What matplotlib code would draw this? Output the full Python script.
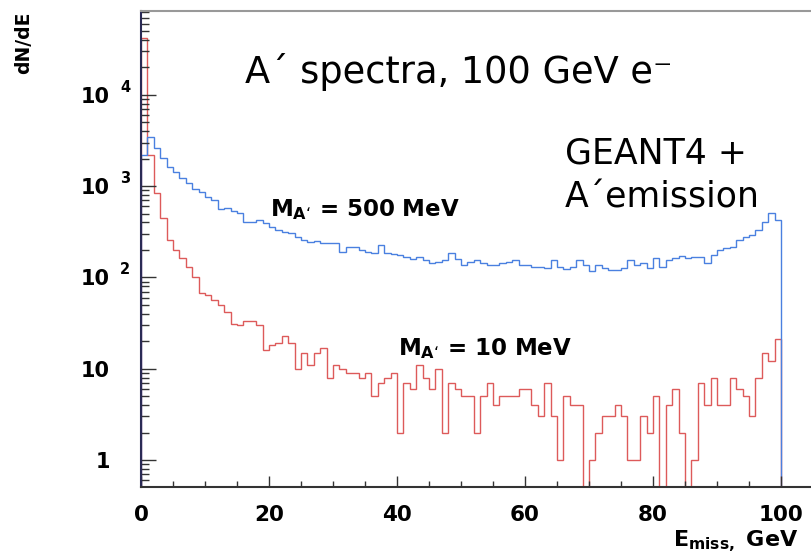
# A' missing energy spectra, log scale histograms (ROOT style look)
import numpy as np
import matplotlib.pyplot as plt
from matplotlib.ticker import MultipleLocator, LogLocator, NullFormatter

plt.rcParams['font.family'] = ['DejaVu Sans']
plt.rcParams['mathtext.fontset'] = 'dejavusans'

# 1 GeV bins from 0 to 100 GeV
bin_edges = np.arange(0, 101, 1)

# M_A' = 500 MeV
counts_500 = [2190, 3475, 2595, 2015, 1633, 1440, 1217, 1073, 923, 868,
              766, 704, 557, 571, 538, 504, 408, 408, 425, 391,
              360, 331, 317, 304, 279, 257, 246, 252, 240, 236,
              236, 191, 217, 217, 199, 191, 186, 226, 183, 180,
              175, 168, 161, 168, 155, 142, 149, 155, 186, 161,
              136, 149, 155, 142, 136, 136, 142, 149, 155, 136,
              136, 131, 131, 126, 155, 131, 123, 131, 155, 137,
              118, 137, 126, 120, 120, 126, 155, 137, 143, 126,
              162, 131, 155, 162, 172, 162, 169, 169, 143, 176,
              199, 208, 217, 257, 279, 291, 331, 408, 511, 425]

# M_A' = 10 MeV
counts_10 = [41900, 2190, 847, 444, 257, 199, 162, 131, 102, 67,
             64, 57, 50, 42, 31, 30, 33, 33, 30, 16,
             18, 19, 23, 19, 10, 15, 11, 15, 17, 8,
             11, 10, 9, 9, 8, 9, 5, 7, 8, 9,
             2, 7, 6, 11, 8, 6, 10, 2, 7, 6,
             5, 5, 2, 5, 7, 4, 5, 5, 5, 6,
             6, 4, 3, 7, 3, 1, 5, 4, 4, 0,
             1, 2, 3, 3, 4, 3, 1, 1, 3, 2,
             5, 0, 4, 6, 2, 0, 1, 7, 4, 8,
             4, 4, 8, 6, 5, 3, 8, 15, 12, 21]

decades = [1, 10, 100, 1000, 10000]
decade_labels = ['1', '10', '10', '10', '10']
decade_powers = ['', '', '2', '3', '4']

W, H = 811, 556
fig = plt.figure(figsize=(W / 100, H / 100), dpi=100)
ax = fig.add_axes([141 / W, (H - 487) / H, (W - 141) / W, (487 - 11) / H])

# empty bins drop below the axis like in ROOT
floor = 1e-3
ax.stairs(np.clip(counts_10, floor, None), bin_edges, baseline=floor,
          color='#dd5a5a', lw=1.0)
ax.stairs(np.clip(counts_500, floor, None), bin_edges, baseline=floor,
          color='#4a80e0', lw=1.0)

ax.set_yscale('log')
ax.set_xlim(0, (W - 141) / 6.4)
ax.set_ylim(0.506, 82800)

ax.xaxis.set_major_locator(MultipleLocator(20))
ax.xaxis.set_minor_locator(MultipleLocator(5))
ax.yaxis.set_major_locator(LogLocator(base=10, numticks=10))
ax.yaxis.set_minor_locator(LogLocator(base=10, subs=np.arange(2, 10), numticks=20))
ax.yaxis.set_major_formatter(NullFormatter())
ax.yaxis.set_minor_formatter(NullFormatter())

ax.tick_params(axis='x', which='major', direction='in', length=8, width=1,
               pad=13, labelsize=15.5, color='#333333')
ax.tick_params(axis='x', which='minor', direction='in', length=4, width=1,
               color='#333333')
ax.tick_params(axis='y', which='major', direction='in', length=11, width=1,
               color='#333333')
ax.tick_params(axis='y', which='minor', direction='in', length=6, width=1,
               color='#333333')
for lab in ax.get_xticklabels():
    lab.set_fontweight('bold')

ax.spines['right'].set_visible(False)
ax.spines['top'].set_color('#999999')
ax.spines['top'].set_linewidth(1.5)
ax.spines['left'].set_color('#2a2a55')
ax.spines['left'].set_linewidth(1.5)
ax.spines['bottom'].set_color('#333333')
ax.spines['bottom'].set_linewidth(1.5)

# y tick labels written by hand: "10" plus a detached exponent
for val, lab, pw in zip(decades, decade_labels, decade_powers):
    ax.annotate(lab, xy=(0, val), xycoords=('axes fraction', 'data'),
                xytext=(-31, -8), textcoords='offset pixels',
                ha='right', va='baseline', fontsize=15, fontweight='bold')
    if pw:
        ax.annotate(pw, xy=(0, val), xycoords=('axes fraction', 'data'),
                    xytext=(-21, 3), textcoords='offset pixels',
                    ha='left', va='baseline', fontsize=10.5, fontweight='bold')

# axis titles
fig.text(24 / W, 1 - 12 / H, 'dN/dE', rotation=90, ha='center', va='top',
         fontsize=13.5, fontweight='bold')
fig.text(673 / W, 1 - 546 / H, r'$\mathbf{E}_{\mathbf{miss,}}$ GeV',
         ha='left', va='baseline', fontsize=16, fontweight='bold')

# annotations
fig.text(245 / W, 1 - 83 / H, 'A\u00b4 spectra, 100 GeV e\u207b',
         ha='left', va='baseline', fontsize=26.5)
fig.text(565 / W, 1 - 163 / H, 'GEANT4 +', ha='left', va='baseline', fontsize=25)
fig.text(565 / W, 1 - 207 / H, 'A\u00b4emission', ha='left', va='baseline', fontsize=25)

m_sub = '$\\mathbf{M}_{\\mathbf{A\u2018}}$'
fig.text(270 / W, 1 - 216 / H, m_sub + ' = 500 MeV',
         ha='left', va='baseline', fontsize=16.5, fontweight='bold')
fig.text(398 / W, 1 - 355 / H, m_sub + ' = 10 MeV',
         ha='left', va='baseline', fontsize=16.5, fontweight='bold')

plt.savefig('out.png', dpi=100)
